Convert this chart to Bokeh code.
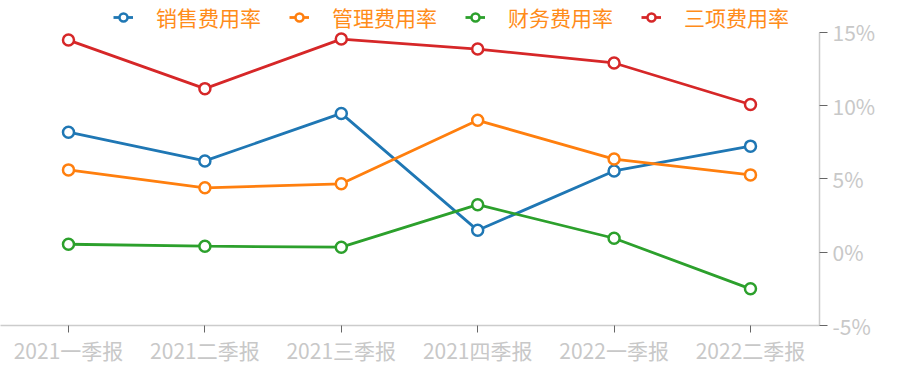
from bokeh.plotting import figure
from bokeh.models import Range1d, FixedTicker, Legend, LegendItem
from bokeh.embed import file_html
from bokeh.resources import INLINE

categories = ["2021一季报", "2021二季报", "2021三季报", "2021四季报", "2022一季报", "2022二季报"]
series_names = ["销售费用率", "管理费用率", "财务费用率", "三项费用率"]
sales = [8.18, 6.22, 9.46, 1.49, 5.54, 7.23]
admin = [5.61, 4.39, 4.66, 8.99, 6.35, 5.27]
finance = [0.54, 0.41, 0.34, 3.24, 0.95, -2.50]
total = [14.46, 11.15, 14.53, 13.85, 12.90, 10.07]
y_ticks = [-5, 0, 5, 10, 15]
colors = ["#1f77b4", "#ff7f0e", "#2ca02c", "#d62728"]

FONT = "Noto Sans CJK SC"
xs = list(range(len(categories)))

p = figure(width=893, height=367, output_backend="svg", toolbar_location=None,
           x_range=Range1d(-0.4985, 5.506), y_range=Range1d(-5, 17.16),
           y_axis_location="right", min_border_left=0, min_border_right=74,
           min_border_top=0, min_border_bottom=39)
p.outline_line_color = None
p.xgrid.visible = False
p.ygrid.visible = False
p.background_fill_color = "white"
p.border_fill_color = "white"

items = []
for name, vals, c in zip(series_names, [sales, admin, finance, total], colors):
    l = p.line(xs, vals, line_color=c, line_width=2.8)
    s = p.scatter(xs, vals, size=11, fill_color="white", line_color=c, line_width=2.5)
    items.append(LegendItem(label=name, renderers=[l, s]))

xa = p.xaxis[0]
xa.ticker = FixedTicker(ticks=xs)
xa.major_label_overrides = {i: c for i, c in enumerate(categories)}
xa.axis_line_color = "#cccccc"
xa.axis_line_width = 1.5
xa.major_tick_line_color = "#666666"
xa.major_tick_out = 7
xa.major_tick_in = 0
xa.minor_tick_line_color = None
xa.major_label_text_color = "#c8c8c8"
xa.major_label_text_font = FONT
xa.major_label_text_font_size = "21px"
xa.major_label_standoff = 2

ya = p.yaxis[0]
ya.ticker = FixedTicker(ticks=y_ticks)
ya.bounds = (y_ticks[0], y_ticks[-1])
ya.major_label_overrides = {t: f"{t}%" for t in y_ticks}
ya.axis_line_color = "#cccccc"
ya.axis_line_width = 1.5
ya.major_tick_line_color = "#666666"
ya.major_tick_out = 8
ya.major_tick_in = 0
ya.minor_tick_line_color = None
ya.major_label_text_color = "#c8c8c8"
ya.major_label_text_font = FONT
ya.major_label_text_font_size = "21px"
ya.major_label_standoff = 5

legend = Legend(items=items, location=(113, 293), orientation="horizontal",
                glyph_width=20, glyph_height=20, label_standoff=23, spacing=28,
                padding=0, margin=0, border_line_color=None, background_fill_alpha=0,
                label_text_color="#ff8c1a", label_text_font=FONT,
                label_text_font_size="21px")
p.add_layout(legend, "center")

open("out.html", "w").write(file_html(p, INLINE))
